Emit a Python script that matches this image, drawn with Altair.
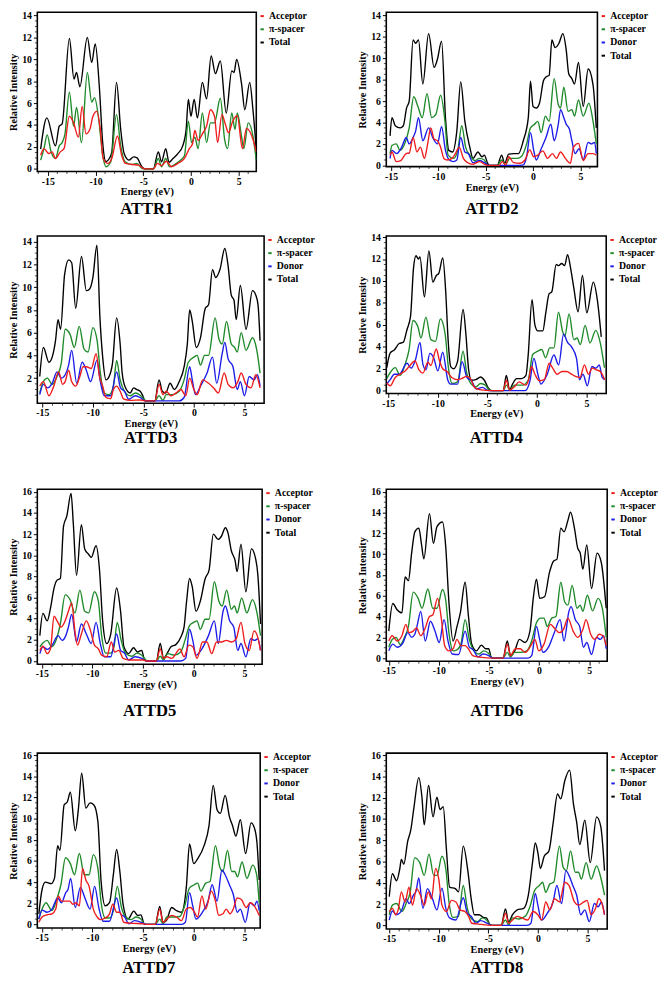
import altair as alt
import pandas as pd

FONT = "Liberation Serif"
SERIES = ["Acceptor", "π-spacer", "Donor", "Total"]
COLORS = ["#ee1c1c", "#1f8a2a", "#1c1ce8", "#000000"]
XTICKS = [-15, -10, -5, 0, 5]
XMINOR = [-16, -14, -13, -12, -11, -9, -8, -7, -6, -4, -3, -2, -1, 1, 2, 3, 4, 6]

# ---------------- ATTR1 ----------------
attr1_total = [(-15.75,1.8),(-15.1,4.65),(-14.2,2.1),(-13.8,3.9),(-13.5,4.1),(-12.74,11.9),(-12.26,8.2),(-11.99,8.8),(-11.64,7.5),(-10.86,12.0),(-10.4,9.7),(-10.03,11.4),(-9.6,7.5),(-9.25,2.4),(-8.9,0.65),(-8.56,0.95),(-8.3,1.5),(-7.8,7.9),(-7.36,3.6),(-7.0,1.4),(-6.5,0.8),(-6.0,1.1),(-5.65,1.0),(-5.14,0.2),(-4.8,0),(-3.94,0),(-3.42,1.55),(-3.08,0.65),(-2.64,1.85),(-2.3,0.6),(-1.88,0.95),(-1.37,1.4),(-0.86,2.1),(-0.5,3.6),(-0.27,6.35),(0.0,4.8),(0.34,6.35),(0.68,4.65),(1.2,7.9),(1.64,6.4),(2.12,10.3),(2.57,8.7),(3.08,9.85),(3.7,5.1),(4.28,8.95),(4.52,8.8),(4.79,10.0),(5.3,7.8),(5.65,5.4),(6.16,7.9),(6.5,5.4),(6.85,1.8)]
attr1_spacer = [(-15.75,0.8),(-15.4,1.85),(-15.07,3.1),(-14.66,1.55),(-14.2,0.95),(-13.8,2.1),(-13.5,2.4),(-13.2,3.2),(-12.74,7.0),(-12.3,3.9),(-11.99,5.6),(-11.47,2.4),(-10.86,8.8),(-10.4,6.1),(-10.1,6.5),(-9.66,4.5),(-9.25,1.25),(-8.9,0.2),(-8.4,0.65),(-7.8,4.95),(-7.36,2.1),(-6.9,0.65),(-6.16,0.4),(-5.65,0.5),(-5.14,0.05),(-4.8,0),(-3.94,0),(-3.42,0.95),(-3.08,0.2),(-2.64,0.95),(-2.25,0.2),(-1.37,0.6),(-0.68,1.2),(-0.27,4.35),(0.07,2.4),(0.41,2.9),(0.75,1.85),(1.2,5.1),(1.64,2.4),(2.05,4.2),(2.47,4.2),(3.08,6.45),(3.53,2.7),(3.84,1.85),(4.28,5.1),(4.62,3.6),(4.86,5.1),(5.3,3.0),(5.55,1.85),(6.0,4.2),(6.5,3.0),(6.85,0.8)]
attr1_acceptor = [(-15.75,1.25),(-15.4,1.85),(-14.9,1.4),(-14.55,1.55),(-14.2,0.95),(-13.7,1.55),(-13.3,1.85),(-12.74,4.8),(-12.3,4.2),(-11.8,2.9),(-11.4,5.7),(-11.0,3.2),(-10.6,3.6),(-10.27,4.8),(-9.86,5.25),(-9.5,3.6),(-9.2,0.95),(-8.7,0.5),(-8.3,0.95),(-7.7,3.0),(-7.26,1.25),(-6.85,0.5),(-6.16,0.4),(-5.5,0.35),(-5.0,0.05),(-4.8,0),(-3.94,0),(-3.5,0.5),(-3.08,0.3),(-2.57,0.7),(-2.05,0.2),(-1.37,0.5),(-0.68,0.95),(-0.17,1.85),(0.17,2.3),(0.41,3.5),(0.75,2.6),(1.2,3.2),(1.64,3.9),(2.05,5.4),(2.47,4.8),(2.8,2.4),(3.25,4.95),(3.6,4.1),(3.94,3.3),(4.38,4.35),(4.86,4.85),(5.4,1.85),(5.82,3.7),(6.5,2.7),(6.85,1.55)]

# ---------------- ATTD2 ----------------
attd2_total = [(-15.1,2.75),(-14.9,4.45),(-14.55,3.7),(-14.04,3.5),(-13.7,3.7),(-13.36,5.35),(-13.08,6.0),(-12.67,11.7),(-12.4,11.4),(-12.1,11.7),(-11.64,7.6),(-11.03,12.3),(-10.45,9.15),(-10.1,9.9),(-9.66,11.6),(-9.25,4.45),(-8.9,1.4),(-8.5,1.25),(-8.05,3.2),(-7.64,7.8),(-7.2,4.1),(-6.68,1.7),(-6.34,0.65),(-5.82,1.25),(-5.4,0.8),(-5.14,0.95),(-4.8,0.2),(-4.6,0),(-3.77,0),(-3.32,0.95),(-3.0,0.2),(-2.57,1.05),(-2.05,1.1),(-1.54,1.1),(-1.03,2.3),(-0.5,4.45),(-0.27,7.85),(0.0,5.5),(0.34,5.35),(0.68,5.8),(1.1,7.9),(1.37,8.25),(1.7,8.4),(1.99,11.7),(2.33,11.0),(2.74,11.4),(3.15,12.3),(3.5,10.8),(3.77,8.55),(4.1,8.1),(4.38,7.6),(4.8,9.6),(5.3,5.5),(5.82,9.0),(6.34,7.5),(6.68,3.5)]
attd2_spacer = [(-15.1,1.1),(-14.9,1.85),(-14.45,2.0),(-14.04,1.4),(-13.5,2.15),(-13.08,3.5),(-12.6,6.4),(-12.16,5.5),(-11.7,4.45),(-11.2,6.7),(-10.7,4.45),(-10.27,4.75),(-9.76,6.55),(-9.3,4.1),(-8.97,0.95),(-8.4,0.65),(-7.95,1.4),(-7.53,3.7),(-7.12,1.7),(-6.68,0.95),(-6.16,0.45),(-5.65,0.65),(-5.14,0.5),(-4.8,0),(-3.77,0),(-3.32,0.5),(-2.9,0.05),(-2.47,0.65),(-1.7,0.65),(-1.2,0.85),(-0.68,2.0),(-0.27,3.5),(0.17,3.85),(0.5,4.1),(0.86,3.05),(1.3,4.6),(1.7,4.1),(2.23,8.1),(2.67,5.65),(2.9,5.35),(3.25,7.3),(3.7,5.05),(4.1,5.2),(4.38,4.6),(4.8,6.1),(5.3,4.6),(5.9,5.8),(6.34,4.1),(6.68,2.0)]
attd2_donor = [(-15.1,0.65),(-14.9,1.4),(-14.4,1.1),(-13.87,1.7),(-13.4,2.6),(-13.08,2.0),(-12.67,2.6),(-12.4,3.2),(-12.1,4.45),(-11.64,2.3),(-11.03,3.5),(-10.6,2.6),(-10.1,2.0),(-9.66,3.6),(-9.25,1.4),(-8.84,0.5),(-8.4,0.35),(-8.05,0.5),(-7.64,2.6),(-7.2,1.25),(-6.85,1.1),(-6.34,0.25),(-5.65,0.45),(-5.14,0.25),(-4.6,0),(-1.7,0),(-1.03,0.05),(-0.68,0.8),(-0.27,3.05),(0.07,1.4),(0.34,0.5),(0.86,1.55),(1.37,2.6),(1.88,3.85),(2.23,2.3),(2.67,3.85),(2.9,5.2),(3.25,4.45),(3.5,3.85),(3.84,3.4),(4.1,2.3),(4.45,1.1),(4.86,1.55),(5.3,0.55),(5.82,2.15),(6.16,2.0),(6.5,2.15),(6.68,1.1)]
attd2_acceptor = [(-15.1,0.95),(-14.9,1.25),(-14.45,0.35),(-13.97,0.45),(-13.4,1.1),(-13.08,1.15),(-12.67,2.6),(-12.26,1.25),(-11.9,1.7),(-11.47,0.65),(-11.13,2.0),(-10.8,3.5),(-10.45,2.45),(-10.1,2.3),(-9.76,1.7),(-9.42,0.65),(-9.07,0.5),(-8.56,0.65),(-8.2,1.1),(-7.8,1.7),(-7.36,0.65),(-6.92,0.25),(-6.34,0.1),(-5.65,0.35),(-5.14,0.1),(-4.6,0),(-3.6,0),(-3.25,0.35),(-2.9,0.05),(-2.57,0.8),(-2.05,0.25),(-1.37,0.2),(-0.86,0.5),(-0.34,1.45),(0.07,0.8),(0.5,0.95),(1.03,1.35),(1.54,0.65),(2.05,1.1),(2.47,0.65),(2.9,1.25),(3.42,0.65),(3.94,0.2),(4.28,1.7),(4.8,2.05),(5.3,0.45),(5.82,1.1),(6.34,1.1),(6.68,0.95)]

# ---------------- ATTD3 ----------------
attd3_total = [(-15.26,2.15),(-14.9,4.7),(-14.35,3.4),(-14.03,3.85),(-13.7,5.3),(-13.45,7.15),(-13.2,6.3),(-12.8,11.1),(-12.4,12.4),(-12.1,12.15),(-11.7,8.15),(-11.13,12.7),(-10.65,9.7),(-10.32,9.85),(-10.0,10.85),(-9.6,13.7),(-9.3,7.3),(-9.03,3.85),(-8.7,1.85),(-8.39,2.15),(-8.06,3.3),(-7.65,7.3),(-7.3,5.0),(-7.1,2.45),(-6.77,1.15),(-6.3,0.7),(-5.97,1.15),(-5.65,1.0),(-5.32,0.85),(-5.06,0.45),(-4.84,0),(-3.87,0),(-3.45,1.85),(-3.13,0.85),(-2.8,0.7),(-2.35,1.55),(-1.94,1.0),(-1.45,1.7),(-0.97,3.0),(-0.65,5.0),(-0.42,8.0),(-0.16,7.0),(0.23,4.7),(0.65,5.55),(1.13,8.15),(1.45,8.45),(1.84,11.55),(2.16,10.85),(2.58,11.55),(3.06,13.4),(3.39,11.85),(3.7,9.3),(3.97,8.85),(4.19,7.15),(4.6,10.15),(5.16,6.3),(5.8,9.7),(6.13,9.3),(6.35,8.45),(6.55,5.3)]
attd3_spacer = [(-15.26,0.7),(-14.9,1.7),(-14.5,2.0),(-14.03,1.45),(-13.55,2.15),(-13.13,3.3),(-12.74,6.3),(-12.26,5.85),(-11.84,4.7),(-11.35,6.55),(-10.87,4.55),(-10.48,4.3),(-10.0,6.45),(-9.58,5.3),(-9.26,2.45),(-8.87,0.7),(-8.39,0.55),(-7.97,1.3),(-7.65,3.55),(-7.3,1.85),(-6.87,0.85),(-6.3,0.45),(-5.8,0.7),(-5.32,0.5),(-4.94,0.15),(-4.7,0),(-3.87,0),(-3.45,0.45),(-3.06,0.05),(-2.74,0.55),(-2.1,0.55),(-1.45,0.85),(-0.97,1.85),(-0.55,3.4),(0.0,3.85),(0.32,4.0),(0.65,3.15),(1.06,4.0),(1.45,4.0),(2.1,7.3),(2.48,5.45),(2.8,5.0),(3.23,7.0),(3.7,5.0),(4.03,4.7),(4.29,4.3),(4.68,6.0),(5.16,4.45),(5.8,5.55),(6.23,4.45),(6.55,2.45)]
attd3_donor = [(-15.26,0.55),(-14.9,1.45),(-14.5,1.15),(-14.03,1.55),(-13.55,2.55),(-13.13,2.0),(-12.74,2.3),(-12.4,3.15),(-12.1,4.45),(-11.6,1.55),(-11.06,3.4),(-10.65,2.7),(-10.23,1.7),(-9.6,3.55),(-9.26,1.7),(-8.87,0.45),(-8.23,0.45),(-7.65,2.55),(-7.26,1.15),(-6.87,0.85),(-6.45,0.15),(-5.8,0.45),(-5.32,0.3),(-4.84,0),(-1.45,0),(-0.97,0.3),(-0.42,3.0),(-0.16,1.85),(0.16,0.55),(0.65,1.3),(1.3,2.45),(1.84,3.85),(2.26,1.55),(2.8,4.15),(3.06,5.15),(3.39,3.7),(3.87,3.0),(4.29,1.0),(4.6,1.7),(5.0,0.45),(5.48,2.15),(5.97,1.85),(6.29,2.3),(6.55,1.3)]
attd3_acceptor = [(-15.26,1.3),(-14.9,1.7),(-14.35,0.45),(-13.87,1.3),(-13.39,2.55),(-13.0,1.45),(-12.74,1.7),(-12.4,2.7),(-12.1,1.7),(-11.7,1.3),(-11.29,2.15),(-10.97,3.0),(-10.65,3.0),(-10.16,2.85),(-9.68,4.15),(-9.35,2.15),(-9.03,1.3),(-8.7,0.3),(-8.23,0.2),(-7.97,1.0),(-7.65,1.3),(-7.3,0.85),(-6.94,0.15),(-6.3,0.05),(-5.32,0.08),(-4.84,0),(-3.87,0),(-3.45,1.45),(-3.06,0.55),(-2.74,0.85),(-2.26,0.45),(-1.77,0.7),(-1.29,1.0),(-0.8,0.45),(-0.42,2.0),(0.0,1.0),(0.32,0.55),(0.87,1.85),(1.45,1.55),(1.94,1.15),(2.42,0.7),(3.0,2.45),(3.39,1.45),(3.87,1.15),(4.35,1.7),(4.68,2.45),(5.16,1.45),(5.65,1.15),(6.13,2.3),(6.55,1.15)]

# ---------------- ATTD4 ----------------
attd4_total = [(-15.15,2.1),(-14.8,3.45),(-14.4,3.7),(-13.9,4.3),(-13.5,4.4),(-13.1,5.6),(-12.75,6.8),(-12.45,11.2),(-12.2,12.3),(-11.95,12.0),(-11.8,12.2),(-11.35,8.55),(-10.9,12.75),(-10.5,9.9),(-10.15,10.5),(-9.9,10.7),(-9.5,12.1),(-9.2,9.0),(-8.95,4.5),(-8.7,2.2),(-8.4,2.0),(-8.0,2.7),(-7.45,7.4),(-7.15,5.0),(-6.9,2.0),(-6.6,0.95),(-6.17,1.0),(-5.68,1.25),(-5.3,0.95),(-4.87,0.2),(-4.55,0),(-3.4,0),(-3.08,1.4),(-2.76,0.1),(-2.43,0.65),(-2.05,1.1),(-1.53,1.1),(-1.1,1.4),(-0.88,3.2),(-0.49,8.3),(-0.2,6.0),(0.1,5.45),(0.6,5.45),(0.9,7.1),(1.24,8.85),(1.5,9.0),(1.95,11.5),(2.2,11.4),(2.5,11.6),(2.8,11.4),(3.1,12.4),(3.4,11.2),(3.74,9.3),(4.16,7.2),(4.6,10.5),(5.04,7.1),(5.7,9.9),(6.1,8.3),(6.5,4.9)]
attd4_spacer = [(-15.15,1.1),(-14.77,1.7),(-14.3,2.1),(-13.8,1.4),(-13.3,2.4),(-12.9,3.75),(-12.5,6.4),(-12.0,5.8),(-11.7,4.8),(-11.2,6.7),(-10.7,4.65),(-10.23,4.5),(-9.74,6.55),(-9.25,5.1),(-8.93,2.1),(-8.54,0.65),(-8.0,0.8),(-7.45,3.6),(-7.1,1.7),(-6.66,0.65),(-6.17,0.35),(-5.68,0.65),(-5.2,0.5),(-4.8,0.05),(-4.55,0),(-3.4,0),(-3.08,0.5),(-2.7,0.05),(-2.27,0.5),(-1.46,0.5),(-0.88,0.95),(-0.42,3.3),(0.1,3.6),(0.49,3.75),(0.88,3.0),(1.3,3.9),(1.72,3.9),(2.18,7.15),(2.6,5.4),(2.82,4.95),(3.25,7.0),(3.73,4.65),(4.06,4.8),(4.38,4.2),(4.87,5.95),(5.36,4.35),(5.94,5.5),(6.4,4.35),(6.82,2.1)]
attd4_donor = [(-15.15,0.6),(-14.8,1.0),(-14.4,1.5),(-13.9,1.5),(-13.1,2.5),(-12.7,2.05),(-12.26,2.8),(-11.8,4.4),(-11.5,2.4),(-11.2,1.9),(-10.8,3.4),(-10.4,2.95),(-10.0,1.8),(-9.5,3.5),(-9.0,1.0),(-8.7,0.6),(-8.0,0.6),(-7.55,2.65),(-7.05,1.2),(-6.6,0.9),(-6.1,0.15),(-5.5,0.3),(-4.9,0),(-1.2,0),(-0.7,0.9),(-0.3,2.95),(0.1,1.5),(0.4,0.6),(1.05,1.5),(1.72,3.25),(2.2,2.35),(2.7,5.15),(3.1,4.4),(3.5,4.0),(4.0,2.95),(4.3,1.0),(4.65,1.5),(5.1,0.45),(5.55,2.2),(5.95,2.05),(6.3,2.35),(6.6,1.2),(6.85,1.0)]
attd4_acceptor = [(-15.15,0.7),(-14.8,0.45),(-14.3,1.2),(-13.8,1.5),(-13.3,1.8),(-12.9,2.2),(-12.3,2.7),(-11.9,1.9),(-11.5,1.6),(-11.0,2.6),(-10.7,2.3),(-10.15,3.8),(-9.85,2.8),(-9.5,2.0),(-9.0,1.7),(-8.6,1.2),(-8.0,1.0),(-7.6,1.1),(-7.1,1.3),(-6.7,1.1),(-6.3,0.3),(-5.8,0.1),(-4.55,0),(-3.4,0),(-3.08,0.95),(-2.76,0.05),(-2.27,0.35),(-1.78,0.8),(-1.14,0.5),(-0.8,1.1),(-0.55,2.2),(-0.2,1.5),(0.26,0.9),(0.75,1.0),(1.24,2.5),(1.6,2.05),(2.05,1.5),(2.54,1.75),(3.0,1.75),(3.5,1.5),(3.9,1.3),(4.35,1.2),(4.8,2.35),(5.2,1.5),(5.6,2.05),(6.0,1.9),(6.4,1.75),(6.85,1.0)]

# ---------------- ATTD5 ----------------
attd5_total = [(-15.2,2.4),(-14.9,4.5),(-14.47,3.8),(-14.15,5.0),(-13.8,6.9),(-13.5,7.65),(-13.18,7.8),(-12.86,12.75),(-12.54,13.7),(-12.12,15.85),(-11.9,13.05),(-11.58,8.1),(-11.1,12.9),(-10.77,10.6),(-10.39,10.1),(-10.13,9.8),(-9.65,10.9),(-9.32,8.75),(-9.0,3.8),(-8.6,1.65),(-8.2,2.55),(-7.62,6.9),(-7.23,4.7),(-6.9,1.35),(-6.43,0.7),(-5.95,1.25),(-5.56,0.85),(-5.14,1.0),(-4.92,0.25),(-4.7,0),(-3.7,0),(-3.31,1.65),(-2.99,0.25),(-2.73,0.55),(-2.25,1.35),(-1.77,1.55),(-1.29,2.25),(-0.96,3.2),(-0.71,5.65),(-0.42,7.8),(-0.16,7.05),(0.22,4.7),(0.64,5.65),(1.13,7.8),(1.51,8.6),(1.93,12.0),(2.41,11.5),(2.73,11.8),(3.12,12.6),(3.38,12.1),(3.7,10.45),(4.08,9.5),(4.28,8.45),(4.66,11.05),(5.14,6.55),(5.69,10.6),(6.11,9.65),(6.33,8.1),(6.59,3.5)]
attd5_spacer = [(-15.2,1.35),(-14.9,1.7),(-14.47,1.95),(-14.05,1.35),(-13.67,1.8),(-13.18,3.5),(-12.7,6.25),(-12.22,5.8),(-11.74,4.55),(-11.25,6.7),(-10.77,4.7),(-10.39,4.55),(-9.81,6.55),(-9.42,5.65),(-9.1,2.4),(-8.68,0.75),(-8.2,0.75),(-7.88,1.35),(-7.56,3.65),(-7.17,1.95),(-6.75,0.75),(-6.11,0.45),(-5.63,0.75),(-5.14,0.55),(-4.73,0.1),(-4.5,0),(-3.7,0),(-3.31,0.45),(-2.99,0.1),(-2.57,0.7),(-1.93,0.55),(-1.29,0.85),(-0.87,1.95),(-0.42,3.35),(0.0,3.65),(0.32,3.8),(0.64,3.0),(1.13,3.95),(1.51,3.95),(2.03,7.5),(2.48,5.65),(2.8,5.2),(3.25,6.7),(3.7,4.9),(4.02,5.2),(4.28,4.55),(4.73,5.95),(5.24,4.55),(5.79,5.8),(6.21,4.7),(6.59,2.4)]
attd5_donor = [(-15.2,0.7),(-14.9,1.35),(-14.47,1.1),(-13.99,1.5),(-13.4,2.4),(-13.0,1.95),(-12.64,2.4),(-12.38,3.2),(-12.06,4.4),(-11.58,1.8),(-11.1,3.5),(-10.61,2.55),(-10.13,1.65),(-9.65,3.65),(-9.23,1.65),(-8.84,0.4),(-8.2,0.4),(-7.62,2.55),(-7.23,1.0),(-6.85,0.75),(-6.43,0.1),(-5.79,0.4),(-5.14,0.25),(-4.7,0),(-1.29,0),(-0.8,0.25),(-0.42,3.0),(-0.1,1.95),(0.22,0.55),(0.8,1.15),(1.45,2.4),(2.03,3.8),(2.41,1.65),(2.89,4.7),(3.12,5.2),(3.54,3.8),(3.95,3.2),(4.34,1.0),(4.66,1.65),(5.14,0.4),(5.63,2.1),(6.01,1.95),(6.33,2.1),(6.59,1.0)]
attd5_acceptor = [(-15.2,1.0),(-14.9,1.4),(-14.47,0.7),(-14.15,1.15),(-13.8,4.25),(-13.5,3.8),(-13.09,3.2),(-12.7,3.8),(-12.38,4.7),(-12.06,5.5),(-11.74,2.85),(-11.48,1.5),(-11.1,2.55),(-10.61,3.8),(-10.19,2.85),(-9.81,1.5),(-9.42,1.15),(-9.1,0.55),(-8.6,0.4),(-8.14,1.8),(-7.81,0.85),(-7.4,1.0),(-6.98,0.25),(-6.3,0.1),(-5.0,0.1),(-4.7,0),(-3.7,0),(-3.31,1.15),(-2.99,0.25),(-2.67,0.4),(-2.15,0.25),(-1.77,0.7),(-1.38,1.15),(-0.96,0.4),(-0.48,1.5),(-0.1,1.35),(0.32,0.25),(0.87,1.8),(1.29,1.8),(1.77,0.7),(2.25,1.8),(2.73,1.8),(3.22,1.95),(3.7,1.8),(4.18,2.1),(4.66,3.65),(5.05,1.65),(5.47,1.0),(5.95,2.85),(6.27,2.4),(6.59,1.0)]

# ---------------- ATTD6 ----------------
attd6_total = [(-15.0,2.6),(-14.6,5.25),(-14.17,4.65),(-13.69,4.35),(-13.37,7.8),(-13.04,7.45),(-12.72,10.1),(-12.4,12.15),(-12.0,12.5),(-11.75,11.05),(-11.5,9.55),(-10.94,13.9),(-10.55,11.05),(-10.19,12.65),(-9.64,13.1),(-9.32,10.75),(-9.0,5.4),(-8.58,1.65),(-8.19,3.05),(-7.86,4.35),(-7.38,7.3),(-7.06,4.15),(-6.73,1.35),(-6.25,0.7),(-5.76,1.25),(-5.34,0.9),(-5.02,0.9),(-4.79,0.1),(-4.6,0),(-3.6,0),(-3.17,1.65),(-2.85,0.25),(-2.43,0.7),(-1.97,1.8),(-1.39,1.5),(-0.91,2.6),(-0.58,5.75),(-0.26,7.6),(0.06,5.75),(0.55,5.9),(1.04,8.25),(1.46,9.35),(1.78,9.5),(2.17,12.5),(2.49,12.15),(2.88,13.25),(3.14,14.05),(3.53,12.5),(3.85,10.6),(4.11,10.1),(4.37,8.55),(4.76,10.9),(5.24,6.7),(5.79,10.1),(6.21,9.2),(6.7,4.8)]
attd6_spacer = [(-15.0,1.05),(-14.66,1.8),(-14.27,2.0),(-13.85,1.3),(-13.43,2.0),(-13.04,3.05),(-12.56,6.35),(-12.07,5.75),(-11.68,4.8),(-11.1,6.65),(-10.61,4.8),(-10.19,4.8),(-9.64,6.6),(-9.32,5.6),(-9.0,2.45),(-8.58,0.7),(-8.19,0.8),(-7.8,1.35),(-7.38,3.7),(-6.96,1.8),(-6.57,0.8),(-5.99,0.4),(-5.53,0.7),(-5.02,0.45),(-4.79,0.1),(-4.6,0),(-3.6,0),(-3.17,0.55),(-2.85,0.1),(-2.43,0.55),(-1.88,0.55),(-1.23,0.7),(-0.74,1.65),(-0.26,3.4),(0.16,3.85),(0.49,3.85),(0.81,3.05),(1.26,3.85),(1.68,4.0),(2.17,7.3),(2.56,5.4),(2.88,5.1),(3.3,7.0),(3.79,4.8),(4.11,5.1),(4.37,4.5),(4.82,6.05),(5.34,4.55),(5.89,5.75),(6.31,4.8),(6.7,2.0)]
attd6_donor = [(-15.0,0.7),(-14.6,1.35),(-14.17,1.05),(-13.63,1.4),(-13.1,2.45),(-12.72,2.0),(-12.4,2.3),(-12.14,3.25),(-11.81,4.5),(-11.36,1.65),(-10.84,3.55),(-10.39,2.6),(-9.97,1.5),(-9.48,3.7),(-9.09,1.65),(-8.67,0.4),(-8.03,0.35),(-7.38,2.6),(-6.96,1.05),(-6.57,0.8),(-6.08,0.1),(-5.6,0.4),(-5.02,0.25),(-4.6,0),(-1.1,0),(-0.74,0.25),(-0.26,3.05),(0.06,1.8),(0.39,0.55),(0.94,1.05),(1.52,2.45),(2.1,3.7),(2.49,1.65),(2.98,4.5),(3.2,4.95),(3.62,3.7),(4.05,3.05),(4.43,1.05),(4.76,1.5),(5.24,0.35),(5.73,2.0),(6.12,1.8),(6.44,2.15),(6.7,0.9)]
attd6_acceptor = [(-15.0,1.65),(-14.66,2.15),(-14.17,1.65),(-13.69,2.15),(-13.3,3.25),(-12.98,2.45),(-12.56,2.6),(-12.23,2.9),(-11.81,2.15),(-11.36,2.9),(-10.94,4.0),(-10.61,4.15),(-10.13,5.75),(-9.74,3.7),(-9.42,1.2),(-9.0,0.7),(-8.58,0.9),(-8.19,1.8),(-7.8,1.2),(-7.38,1.2),(-7.06,0.9),(-6.63,0.25),(-5.9,0.1),(-4.6,0),(-3.6,0),(-3.17,1.35),(-2.85,0.25),(-2.36,0.9),(-1.88,0.9),(-1.39,0.55),(-0.91,1.05),(-0.42,1.8),(-0.03,0.7),(0.49,1.35),(1.13,3.25),(1.52,2.9),(2.01,2.45),(2.43,2.75),(2.88,3.85),(3.4,2.6),(3.85,2.0),(4.37,2.75),(4.69,3.7),(5.15,2.3),(5.57,1.8),(5.99,2.3),(6.38,2.15),(6.7,1.2)]

# ---------------- ATTD7 ----------------
attd7_total = [(-15.3,1.0),(-14.98,3.3),(-14.66,4.0),(-14.08,3.85),(-13.76,4.35),(-13.44,7.45),(-13.22,7.0),(-12.8,11.3),(-12.48,11.6),(-12.19,12.5),(-11.7,8.85),(-11.4,10.85),(-11.07,14.3),(-10.66,11.0),(-10.24,11.5),(-9.86,11.3),(-9.47,9.75),(-9.15,4.05),(-8.74,1.75),(-8.32,2.05),(-7.94,4.7),(-7.62,7.1),(-7.3,5.0),(-6.98,1.9),(-6.5,0.5),(-5.92,1.25),(-5.54,0.85),(-5.22,0.9),(-4.9,0.05),(-4.7,0),(-3.8,0),(-3.36,1.7),(-3.04,0.2),(-2.72,0.35),(-2.18,1.6),(-1.7,1.3),(-1.22,1.15),(-0.74,3.45),(-0.42,7.6),(0.0,5.75),(0.38,6.2),(1.02,7.45),(1.5,9.3),(1.92,13.15),(2.3,10.85),(2.62,10.5),(3.1,12.2),(3.52,10.2),(3.84,9.3),(4.16,8.35),(4.6,9.9),(5.12,6.7),(5.66,9.6),(5.98,9.15),(6.24,7.75),(6.46,4.2)]
attd7_spacer = [(-15.3,0.5),(-14.98,1.45),(-14.6,2.05),(-14.0,1.3),(-13.54,2.35),(-13.12,3.75),(-12.67,6.3),(-12.19,5.75),(-11.78,4.7),(-11.3,6.7),(-10.82,4.7),(-10.34,4.7),(-9.92,6.6),(-9.47,5.3),(-9.15,2.05),(-8.74,0.6),(-8.32,0.6),(-7.94,1.3),(-7.55,3.6),(-7.14,1.6),(-6.72,0.7),(-6.18,0.45),(-5.7,0.7),(-5.22,0.5),(-4.9,0.05),(-4.7,0),(-3.8,0),(-3.36,0.5),(-3.04,0.05),(-2.66,0.7),(-2.02,0.7),(-1.38,0.75),(-0.9,1.75),(-0.42,3.45),(0.06,3.75),(0.38,3.9),(0.7,3.15),(1.18,3.9),(1.6,4.05),(2.14,7.45),(2.56,5.45),(2.88,5.0),(3.33,7.0),(3.74,5.0),(4.06,5.0),(4.32,4.5),(4.77,5.9),(5.25,4.35),(5.82,5.6),(6.21,4.7),(6.46,2.05)]
attd7_donor = [(-15.3,0.5),(-14.98,1.35),(-14.5,1.15),(-14.0,1.45),(-13.44,2.5),(-13.06,2.05),(-12.64,3.0),(-12.42,3.3),(-12.16,4.35),(-11.7,1.6),(-11.2,3.5),(-10.75,2.5),(-10.24,1.45),(-9.79,3.6),(-9.38,1.6),(-8.96,0.3),(-8.32,0.3),(-7.62,2.5),(-7.23,1.0),(-6.82,0.7),(-6.4,0.05),(-5.86,0.35),(-5.22,0.2),(-4.7,0),(-1.2,0),(-0.83,0.2),(-0.42,3.0),(-0.1,1.75),(0.22,0.5),(0.86,1.15),(1.41,2.2),(1.82,3.75),(2.3,2.2),(2.78,5.15),(3.1,4.7),(3.52,3.75),(3.9,2.85),(4.29,1.15),(4.6,1.45),(5.09,0.2),(5.57,2.05),(5.98,1.75),(6.24,2.2),(6.46,1.3)]
attd7_acceptor = [(-15.3,0.2),(-14.98,0.7),(-14.5,0.9),(-14.0,1.0),(-13.63,1.45),(-13.38,2.7),(-13.06,2.2),(-12.67,2.2),(-12.26,2.2),(-11.94,1.9),(-11.62,2.05),(-11.3,1.75),(-10.98,5.3),(-10.66,4.2),(-10.34,3.6),(-9.92,1.45),(-9.54,0.7),(-9.22,0.45),(-8.74,0.6),(-8.32,1.0),(-8.0,1.9),(-7.62,1.15),(-7.3,1.15),(-6.91,0.2),(-6.3,0.12),(-4.9,0.05),(-4.7,0),(-3.8,0),(-3.36,1.45),(-3.04,0.2),(-2.66,0.5),(-2.18,0.85),(-1.7,0.7),(-1.22,0.35),(-0.74,1.45),(-0.32,1.6),(0.06,1.15),(0.38,0.7),(0.8,2.7),(1.18,1.45),(1.73,3.15),(2.14,2.2),(2.46,0.85),(2.88,1.0),(3.2,1.45),(3.58,1.0),(3.9,1.45),(4.29,2.5),(4.7,2.35),(5.18,1.6),(5.57,2.05),(5.98,1.75),(6.46,0.85)]

# ---------------- ATTD8 ----------------
attd8_total = [(-15.0,2.7),(-14.68,4.85),(-14.26,4.2),(-13.94,5.3),(-13.78,6.2),(-13.53,5.75),(-13.14,7.9),(-12.82,9.0),(-12.5,11.15),(-12.02,13.9),(-11.7,12.05),(-11.47,9.45),(-11.03,13.15),(-10.58,10.2),(-10.19,12.05),(-9.87,10.9),(-9.55,11.15),(-9.23,7.15),(-8.91,3.6),(-8.33,3.45),(-8.01,3.15),(-7.53,7.45),(-7.05,5.0),(-6.73,2.5),(-6.41,1.0),(-5.93,1.0),(-5.51,0.75),(-5.19,0.7),(-4.81,0.05),(-4.6,0),(-3.7,0),(-3.27,1.55),(-2.95,0.3),(-2.56,1.0),(-2.08,1.45),(-1.44,1.6),(-0.96,2.85),(-0.54,5.9),(-0.26,7.75),(0.0,6.85),(0.26,5.35),(0.64,6.5),(1.12,7.0),(1.54,9.6),(1.99,12.35),(2.31,11.9),(2.72,13.6),(3.21,14.6),(3.59,11.45),(3.91,9.75),(4.23,7.6),(4.74,9.9),(5.29,5.9),(5.93,10.2),(6.35,9.3),(6.73,5.15)]
attd8_spacer = [(-15.0,1.0),(-14.68,1.9),(-14.26,2.05),(-13.72,1.3),(-13.3,2.05),(-12.88,3.15),(-12.44,6.35),(-11.92,5.9),(-11.47,4.7),(-10.99,6.7),(-10.51,4.7),(-10.19,4.7),(-9.68,6.5),(-9.29,5.3),(-8.97,2.2),(-8.59,0.75),(-8.01,0.85),(-7.53,3.75),(-7.12,1.6),(-6.67,0.6),(-6.09,0.35),(-5.61,0.7),(-5.13,0.45),(-4.8,0.05),(-4.6,0),(-3.7,0),(-3.27,0.5),(-2.95,0.05),(-2.56,0.7),(-1.92,0.6),(-1.28,0.85),(-0.8,1.75),(-0.32,3.3),(0.16,3.75),(0.48,4.05),(0.8,3.1),(1.22,3.9),(1.6,4.05),(2.18,7.45),(2.56,5.45),(2.88,5.15),(3.3,7.0),(3.78,5.0),(4.1,5.0),(4.39,4.35),(4.87,5.9),(5.38,4.35),(5.93,5.6),(6.35,4.5),(6.73,2.85)]
attd8_donor = [(-15.0,0.5),(-14.68,1.35),(-14.26,1.0),(-13.78,1.35),(-13.3,2.5),(-12.98,2.05),(-12.56,2.85),(-12.31,3.15),(-12.02,4.45),(-11.6,1.6),(-11.15,3.45),(-10.64,2.5),(-10.19,1.45),(-9.68,3.5),(-9.29,1.6),(-8.91,0.7),(-8.27,0.5),(-7.53,2.6),(-7.12,1.15),(-6.73,0.85),(-6.25,0.2),(-5.77,0.45),(-5.13,0.2),(-4.6,0),(-1.1,0),(-0.7,0.2),(-0.26,3.0),(0.0,1.9),(0.38,0.5),(0.96,1.15),(1.54,2.2),(1.92,3.75),(2.4,2.05),(2.82,5.15),(3.14,4.7),(3.53,3.75),(3.91,2.85),(4.33,1.0),(4.74,1.45),(5.19,0.35),(5.71,2.05),(6.09,1.75),(6.41,2.2),(6.73,1.0)]
attd8_acceptor = [(-15.0,1.3),(-14.68,1.6),(-14.36,1.0),(-14.1,1.45),(-13.78,3.15),(-13.4,2.2),(-13.01,3.6),(-12.66,1.9),(-12.24,3.45),(-11.86,2.85),(-11.47,1.9),(-11.06,3.15),(-10.74,2.5),(-10.32,5.35),(-10.0,4.35),(-9.68,1.9),(-9.23,1.3),(-8.72,2.35),(-8.27,2.2),(-7.85,1.45),(-7.37,1.3),(-6.99,0.85),(-6.67,0.2),(-6.0,0.12),(-4.6,0),(-3.7,0),(-3.27,1.15),(-2.95,0.2),(-2.56,0.5),(-2.08,0.85),(-1.6,0.7),(-1.03,0.5),(-0.48,1.3),(0.0,1.0),(0.38,0.5),(0.8,2.2),(1.22,1.45),(1.67,2.5),(2.18,2.2),(2.72,4.05),(3.14,3.75),(3.69,2.2),(4.1,1.9),(4.65,2.2),(4.97,2.35),(5.38,1.0),(5.83,1.6),(6.15,2.5),(6.47,2.05),(6.73,1.0)]

Y14 = [0, 2, 4, 6, 8, 10, 12, 14]
Y16 = [0, 2, 4, 6, 8, 10, 12, 14, 16]
Y14_MINOR = [0.5, 1, 1.5, 2.5, 3, 3.5, 4.5, 5, 5.5, 6.5, 7, 7.5, 8.5, 9, 9.5, 10.5, 11, 11.5, 12.5, 13, 13.5]
Y16_MINOR = Y14_MINOR + [14.5, 15, 15.5]

# name, series, width, height, x-domain, y-domain, y-ticks, y-minor, title y, spacer bottom
PANELS = [
    ("ATTR1", {"Acceptor": attr1_acceptor, "π-spacer": attr1_spacer, "Total": attr1_total},
     224, 163, [-16.1, 6.85], [-0.24, 14.3], Y14, Y14_MINOR, 201, 223),
    ("ATTD2", {"Acceptor": attd2_acceptor, "π-spacer": attd2_spacer, "Donor": attd2_donor, "Total": attd2_total},
     216, 158, [-15.5, 6.8], [-0.12, 14.3], Y14, Y14_MINOR, 201, 223),
    ("ATTD3", {"Acceptor": attd3_acceptor, "π-spacer": attd3_spacer, "Donor": attd3_donor, "Total": attd3_total},
     232, 171, [-15.5, 6.95], [-0.2, 14.5], Y14[1:], Y14_MINOR, 207, 253),
    ("ATTD4", {"Acceptor": attd4_acceptor, "π-spacer": attd4_spacer, "Donor": attd4_donor, "Total": attd4_total},
     225, 161, [-15.2, 7.0], [-0.25, 14.1], Y14, Y14_MINOR, 207, 253),
    ("ATTD5", {"Acceptor": attd5_acceptor, "π-spacer": attd5_spacer, "Donor": attd5_donor, "Total": attd5_total},
     230, 179, [-15.45, 6.75], [-0.3, 16.25], Y16, Y16_MINOR, 227, 264),
    ("ATTD6", {"Acceptor": attd6_acceptor, "π-spacer": attd6_spacer, "Donor": attd6_donor, "Total": attd6_total},
     226, 176, [-15.25, 6.8], [-0.3, 16.25], Y16, Y16_MINOR, 227, 264),
    ("ATTD7", {"Acceptor": attd7_acceptor, "π-spacer": attd7_spacer, "Donor": attd7_donor, "Total": attd7_total},
     228, 179, [-15.45, 6.56], [-0.35, 16.2], Y16, Y16_MINOR, 220, 180),
    ("ATTD8", {"Acceptor": attd8_acceptor, "π-spacer": attd8_spacer, "Donor": attd8_donor, "Total": attd8_total},
     226, 180, [-15.3, 7.0], [-0.35, 16.2], Y16, Y16_MINOR, 220, 180),
]

COL_EXTENT = 326  # right edge of the left column cells (relative to plot left)


def make_panel(idx, p):
    name, series, w, h, xd, yd, yt, ym, tdy, sb = p
    rows = []
    for s in ["Total", "π-spacer", "Donor", "Acceptor"]:
        if s in series:
            for x, y in series[s]:
                rows.append({"series": s, "x": x, "y": y})
    df = pd.DataFrame(rows)
    dom = [s for s in SERIES if s in series]
    rng = [COLORS[SERIES.index(s)] for s in dom]

    xenc = alt.X("x:Q", scale=alt.Scale(domain=xd, nice=False, zero=False),
                 axis=alt.Axis(values=XTICKS, title="Energy (eV)", labelExpr="'' + datum.value",
                               titlePadding=1, labelPadding=1))
    yenc = alt.Y("y:Q", scale=alt.Scale(domain=yd, nice=False, zero=False),
                 axis=alt.Axis(values=yt, title="Relative Intensity", labelExpr="'' + datum.value",
                               titlePadding=3, labelPadding=2))

    lines = alt.Chart(df).mark_line(strokeWidth=1.4, interpolate="monotone", clip=True).encode(
        x=xenc, y=yenc,
        color=alt.Color("series:N", scale=alt.Scale(domain=dom, range=rng),
                        legend=alt.Legend(orient="none", legendX=w + 1, legendY=-1, title=None,
                                          symbolType="stroke", symbolSize=12, symbolStrokeWidth=2,
                                          labelFont=FONT, labelFontSize=10, labelFontWeight="bold",
                                          labelColor="black", rowPadding=3.5, labelOffset=2,
                                          padding=0)),
    )

    yminor = alt.Chart(pd.DataFrame({"y": ym})).mark_tick(
        color="black", thickness=1, size=2.5
    ).encode(y=yenc, x=alt.value(-1.25))
    xminor = alt.Chart(pd.DataFrame({"x": [v for v in XMINOR if xd[0] < v < xd[1]]})).mark_tick(
        color="black", thickness=1, size=2.5
    ).encode(x=xenc, y=alt.value(h + 1.25))

    title = alt.Chart(pd.DataFrame({"label": [name]})).mark_text(
        font=FONT, fontSize=17, fontWeight="bold", baseline="middle", align="center", color="black"
    ).encode(text="label:N", x=alt.value(w / 2), y=alt.value(tdy))

    sx = COL_EXTENT if idx % 2 == 0 else 0
    spacer = alt.Chart(pd.DataFrame({"s": [0]})).mark_rule(opacity=0, strokeWidth=0.1).encode(
        x=alt.value(sx), x2=alt.value(sx), y=alt.value(-4), y2=alt.value(sb)
    )

    return alt.layer(lines, yminor, xminor, title, spacer).properties(width=w, height=h)


cells = [make_panel(i, p) for i, p in enumerate(PANELS)]

chart = alt.concat(*cells, columns=2, spacing=0, align="none", bounds="full").resolve_scale(
    x="independent", y="independent", color="independent"
).properties(
    padding={"top": -12, "left": 0, "right": 0, "bottom": 0}, background="white"
).configure_view(
    stroke="black", strokeWidth=1.6
).configure_axis(
    labelFont=FONT, titleFont=FONT, labelFontWeight="bold", titleFontWeight="bold",
    labelColor="black", titleColor="black", tickColor="black", domain=False, grid=False,
    labelFontSize=10, titleFontSize=10.5, tickSize=4, tickWidth=1
)

chart.save("out.html", embed_options={"renderer": "svg", "actions": False})
